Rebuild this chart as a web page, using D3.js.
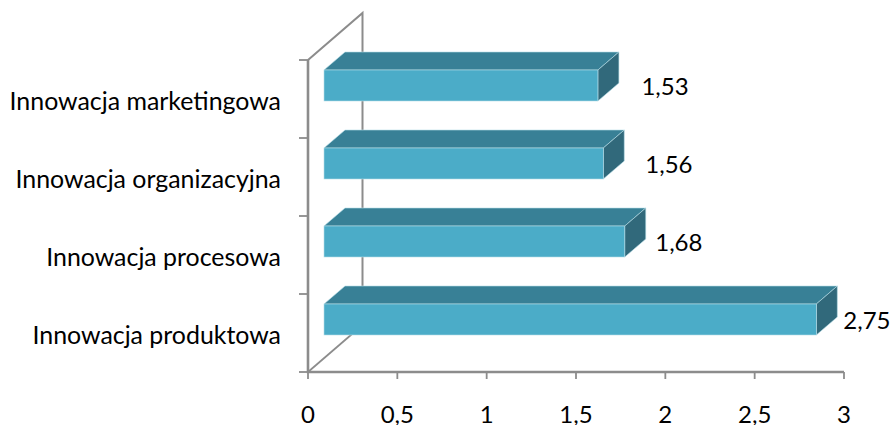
<!DOCTYPE html>
<html><head><meta charset="utf-8">
<script src="https://cdn.jsdelivr.net/npm/d3@7"></script>
<style>html,body{margin:0;padding:0;background:#fff}svg{display:block}text{font-family:Lato,"Open Sans",sans-serif;fill:#000}</style>
</head><body><svg id="c" width="890" height="425"></svg>
<script>
const categories = ["Innowacja marketingowa","Innowacja organizacyjna","Innowacja procesowa","Innowacja produktowa"];
const values = [1.53,1.56,1.68,2.75];
const valueLabels = ["1,53","1,56","1,68","2,75"];
const xTicks = [0,0.5,1,1.5,2,2.5,3];
const xTickLabels = ["0","0,5","1","1,5","2","2,5","3"];
const labelShift = [43.5,42,30.5,27];

const svg=d3.select("#c");
const x=d3.scaleLinear().domain([0,3]).range([308,844]);
const y=d3.scaleBand().domain(categories).range([60,372]);
const frontX=16, frontScale=1.002, depthX=21, depthY=18, barH=31, barUp=13.5;
const axisCol="#8c8c8c";
const wallX=54.5, wallY=47;

const wall=svg.append("g").attr("fill","none").attr("stroke",axisCol);
const x0=x(0), yB=372, yT=60;
wall.append("path").attr("stroke-width",2).attr("d",d3.line()([[x0,yT],[x0+wallX,yT-wallY],[x0+wallX,yB-wallY]]));
wall.append("path").attr("stroke-width",1.7).attr("d",d3.line()([[x0,yB],[x0+wallX,yB-wallY]]));
wall.append("path").attr("stroke-width",2.6).attr("d",d3.line()([[x0,yT],[x0,yB],[x(3),yB]]));
const yTickPos=[...categories.map(c=>y(c)),yB];
wall.selectAll(".yt").data(yTickPos).join("line").attr("stroke-width",1.8)
  .attr("x1",x0-9).attr("x2",x0).attr("y1",d=>d).attr("y2",d=>d);
wall.selectAll(".xt").data(xTicks).join("line").attr("stroke-width",1.8)
  .attr("x1",d=>x(d)).attr("x2",d=>x(d)).attr("y1",yB).attr("y2",yB+7);

const bars=svg.append("g").selectAll("g").data(values).join("g");
const xa=x0+frontX;
const xe=v=>xa+(x(v)-x0)*frontScale;
const yt=(_,i)=>y(categories[i])+y.bandwidth()/2-barUp-barH/2;
const edge="#b5dde8";
bars.append("path").attr("fill","#388096").attr("stroke",edge).attr("stroke-width",.6)
  .attr("d",(v,i)=>{const t=yt(v,i);return d3.line()([[xa,t],[xa+depthX,t-depthY],[xe(v)+depthX,t-depthY],[xe(v),t]])+"Z"});
bars.append("path").attr("fill","#31697b").attr("stroke",edge).attr("stroke-width",.6)
  .attr("d",(v,i)=>{const t=yt(v,i);return d3.line()([[xe(v),t],[xe(v)+depthX,t-depthY],[xe(v)+depthX,t-depthY+barH],[xe(v),t+barH]])+"Z"});
bars.append("rect").attr("fill","#4bacc8").attr("stroke",edge).attr("stroke-width",.6)
  .attr("x",xa).attr("y",(v,i)=>yt(v,i)).attr("width",v=>xe(v)-xa).attr("height",barH);

svg.append("g").selectAll("text").data(categories).join("text")
  .attr("x",281).attr("y",d=>y(d)+y.bandwidth()/2+10.5).attr("text-anchor","end").attr("font-size",24.9).text(d=>d);
svg.append("g").selectAll("text").data(values).join("text")
  .attr("x",(v,i)=>xe(v)+labelShift[i]).attr("y",(v,i)=>yt(v,i)+25).attr("font-size",24).text((v,i)=>valueLabels[i]);
svg.append("g").selectAll("text").data(xTicks).join("text")
  .attr("x",d=>x(d)).attr("y",423).attr("text-anchor","middle").attr("font-size",24).text((d,i)=>xTickLabels[i]);
</script></body></html>
